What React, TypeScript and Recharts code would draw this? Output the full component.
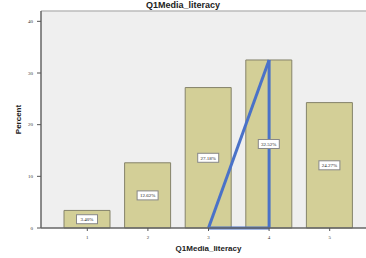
import React from "react";
import {
  Bar,
  BarChart,
  CartesianGrid,
  LabelList,
  ReferenceLine,
  XAxis,
  YAxis,
} from "recharts";

const categories = ["1", "2", "3", "4", "5"];
const percents = [3.4, 12.62, 27.18, 32.52, 24.27];
const yTicks = [0, 10, 20, 30, 40];
// blue triangle drawn over bars 3 and 4
const triangle = [
  { x: "3", y: 0 },
  { x: "4", y: 32.52 },
  { x: "4", y: 0 },
  { x: "3", y: 0 },
];

const data = categories.map((cat, i) => ({ cat, value: percents[i] }));

function ValueLabel(props: any) {
  const { x, y, width, height, value } = props;
  const cx = x + width / 2;
  const cy = y + height / 2;
  return (
    <g>
      <rect x={cx - 10.5} y={cy - 4.5} width={21} height={9} fill="#fff" stroke="#888" strokeWidth={1} />
      <text x={cx} y={cy + 2} textAnchor="middle" fontSize={5} fontFamily="Liberation Serif" fill="#222">
        {value.toFixed(2)}%
      </text>
    </g>
  );
}

function YTick(props: any) {
  const { x, y, payload } = props;
  return (
    <text x={x - 2} y={y + 1.5} textAnchor="end" fontSize={5} fontFamily="Liberation Serif" fill="#333">
      {payload.value}
    </text>
  );
}

function XTick(props: any) {
  const { x, y, payload } = props;
  return (
    <text x={x} y={y + 6} textAnchor="middle" fontSize={5} fontFamily="Liberation Serif" fill="#333">
      {payload.value}
    </text>
  );
}

export default function App() {
  return (
    <div style={{ position: "absolute", top: 0, left: 0, width: 366, height: 258, overflow: "hidden", background: "#fff" }}>
      <BarChart
        width={372}
        height={258}
        data={data}
        margin={{ top: 11, right: 0, left: 0, bottom: 0 }}
      >
        <CartesianGrid fill="#efefef" horizontal={false} vertical={false} />
        <XAxis
          dataKey="cat"
          padding={{ left: 16, right: 12 }}
          tick={<XTick />}
          tickSize={3}
          tickLine={{ stroke: "#555" }}
          axisLine={{ stroke: "#666", strokeWidth: 1.5 }}
          height={30}
          label={{
            value: "Q1Media_literacy",
            position: "insideBottom",
            offset: 7,
            dx: 2,
            style: { fontFamily: "Liberation Sans", fontWeight: "bold", fontSize: 8, fill: "#222" },
          }}
        />
        <YAxis
          domain={[0, 42]}
          ticks={yTicks}
          tick={<YTick />}
          tickSize={4}
          tickLine={{ stroke: "#555" }}
          axisLine={{ stroke: "#666", strokeWidth: 1.5 }}
          width={41}
          label={{
            value: "Percent",
            angle: -90,
            position: "insideLeft",
            offset: 18,
            style: { fontFamily: "Liberation Sans", fontWeight: "bold", fontSize: 8, fill: "#222", textAnchor: "middle" },
          }}
        />
        <ReferenceLine y={42} stroke="#bbb" strokeWidth={1.5} />
        <Bar
          dataKey="value"
          fill="#d3cf97"
          stroke="#85836a"
          strokeWidth={1}
          barSize={46}
          isAnimationActive={false}
        >
          <LabelList dataKey="value" content={<ValueLabel />} />
        </Bar>
        {triangle.slice(1).map((p, i) => (
          <ReferenceLine
            key={i}
            segment={[triangle[i], p]}
            stroke="#4a72c8"
            strokeWidth={3}
            ifOverflow="visible"
          />
        ))}
      </BarChart>
      <div
        style={{
          position: "absolute",
          top: 0,
          left: 0,
          width: 366,
          textAlign: "center",
          fontFamily: "Liberation Sans",
          fontWeight: "bold",
          fontSize: 9,
          lineHeight: "10px",
          color: "#222",
          zIndex: 2,
        }}
      >
        Q1Media_literacy
      </div>
    </div>
  );
}
